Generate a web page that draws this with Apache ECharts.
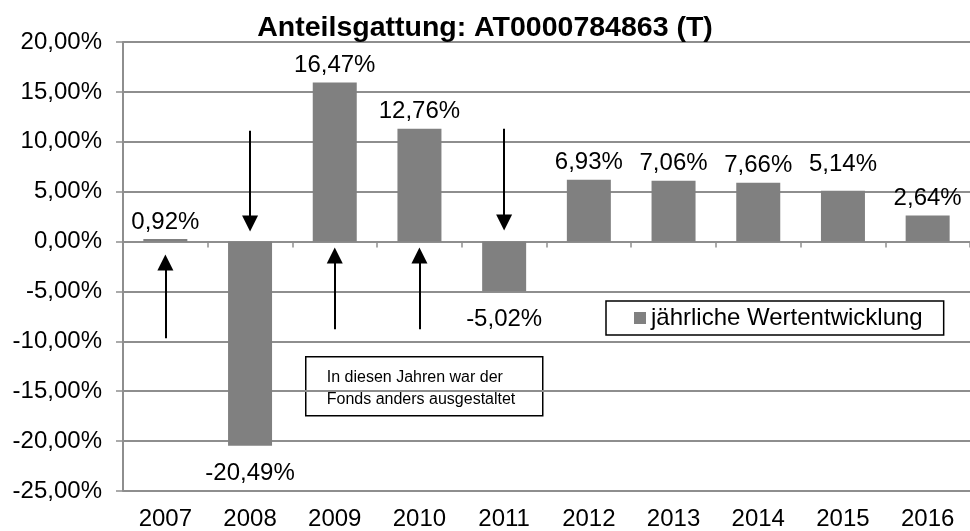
<!DOCTYPE html>
<html>
<head>
<meta charset="utf-8">
<script src="https://cdn.jsdelivr.net/npm/echarts@6/dist/echarts.min.js"></script>
<style>html,body{margin:0;padding:0;background:#fff}#c{width:970px;height:531px}</style>
</head>
<body>
<div id="c"></div>
<script>
// --- data ---
const years = ['2007','2008','2009','2010','2011','2012','2013','2014','2015','2016'];
// bar heights as drawn in the picture (%)
const barValues = [0.25, -20.47, 15.93, 11.3, -4.98, 6.2, 6.1, 5.9, 5.1, 2.6];
// value labels as printed in the picture
const labelTexts = ['0,92%','-20,49%','16,47%','12,76%','-5,02%','6,93%','7,06%','7,66%','5,14%','2,64%'];
const seriesName = 'jährliche Wertentwicklung';
const titleText = 'Anteilsgattung: AT0000784863 (T)';
const noteLines = ['In diesen Jahren war der', 'Fonds anders ausgestaltet'];
// annotation arrows: category, start value, end value (centre of arrow head)
const arrowYears = ['2007','2008','2009','2010','2011'];
const arrowFrom  = [-9.7, 11.1, -8.8, -8.8, 11.3];
const arrowTo    = [-2.1, 1.8, -1.4, -1.4, 1.9];

const FONT = '"Liberation Sans", Arial, sans-serif';
const GRID = '#8e8e8e';
const FS = 24;

const chart = echarts.init(document.getElementById('c'), null, {renderer: 'canvas'});

const barData = barValues.map((v, i) => {
  const item = {value: v, label: {position: v < 0 ? 'bottom' : 'top', distance: v < 0 ? 16 : 5}};
  if (i === 8) item.label.distance = 14;
  return item;
});

const arrowLines = arrowYears.map((y, i) => [
  {coord: [y, arrowFrom[i]]},
  {coord: [y, arrowTo[i]]}
]);

chart.setOption({
  animation: false,
  backgroundColor: '#fff',
  textStyle: {fontFamily: FONT},
  title: {
    text: titleText,
    left: 'center',
    top: 9,
    textStyle: {fontFamily: FONT, fontSize: 28.5, fontWeight: 'bold', color: '#000'}
  },
  legend: {
    data: [seriesName],
    left: 606,
    top: 301,
    orient: 'horizontal',
    icon: 'rect',
    itemWidth: 12,
    itemHeight: 12,
    padding: [5, 21, 5, 28],
    borderColor: '#000',
    borderWidth: 1.5,
    backgroundColor: '#fff',
    textStyle: {fontFamily: FONT, fontSize: FS, color: '#000'}
  },
  grid: {left: 123, top: 42, width: 858.6, height: 450, containLabel: false},
  xAxis: [{
    type: 'category',
    data: years,
    axisLine: {onZero: true, lineStyle: {color: GRID, width: 2}},
    axisTick: {show: true, length: 6, lineStyle: {color: GRID, width: 1.5}},
    axisLabel: {show: false},
    splitLine: {show: false}
  }, {
    type: 'category',
    data: years,
    position: 'bottom',
    axisLine: {show: false, onZero: false},
    axisTick: {show: false},
    axisLabel: {show: true, fontFamily: FONT, fontSize: FS, color: '#000', margin: 16},
    splitLine: {show: false}
  }],
  yAxis: {
    type: 'value',
    min: -25,
    max: 20,
    interval: 5,
    axisLine: {show: true, lineStyle: {color: GRID, width: 2}},
    axisTick: {show: true, length: 7, lineStyle: {color: GRID, width: 1.5}},
    axisLabel: {
      fontFamily: FONT, fontSize: FS, color: '#000', margin: 21,
      formatter: v => v.toFixed(2).replace('.', ',') + '%'
    },
    splitLine: {show: true, lineStyle: {color: GRID, width: 2}}
  },
  series: [{
    name: seriesName,
    type: 'bar',
    xAxisIndex: 0,
    barWidth: 44,
    itemStyle: {color: '#808080'},
    data: barData,
    label: {
      show: true,
      fontFamily: FONT,
      fontSize: FS,
      color: '#000',
      formatter: p => labelTexts[p.dataIndex]
    },
    markLine: {
      silent: true,
      symbol: ['none', 'triangle'],
      symbolSize: [16, 16],
      label: {show: false},
      lineStyle: {color: '#000', width: 2, type: 'solid'},
      emphasis: {disabled: true},
      data: arrowLines
    }
  }],
  graphic: [{
    type: 'group',
    left: 305,
    top: 356,
    children: [{
      type: 'rect',
      shape: {x: 0, y: 0, width: 237, height: 59},
      style: {fill: '#fff', stroke: '#000', lineWidth: 1.5}
    }, {
      type: 'text',
      x: 21, y: 10,
      style: {text: noteLines.join('\n'), fill: '#000', font: '16px ' + FONT, lineHeight: 21.6}
    }]
  }]
});
</script>
</body>
</html>
